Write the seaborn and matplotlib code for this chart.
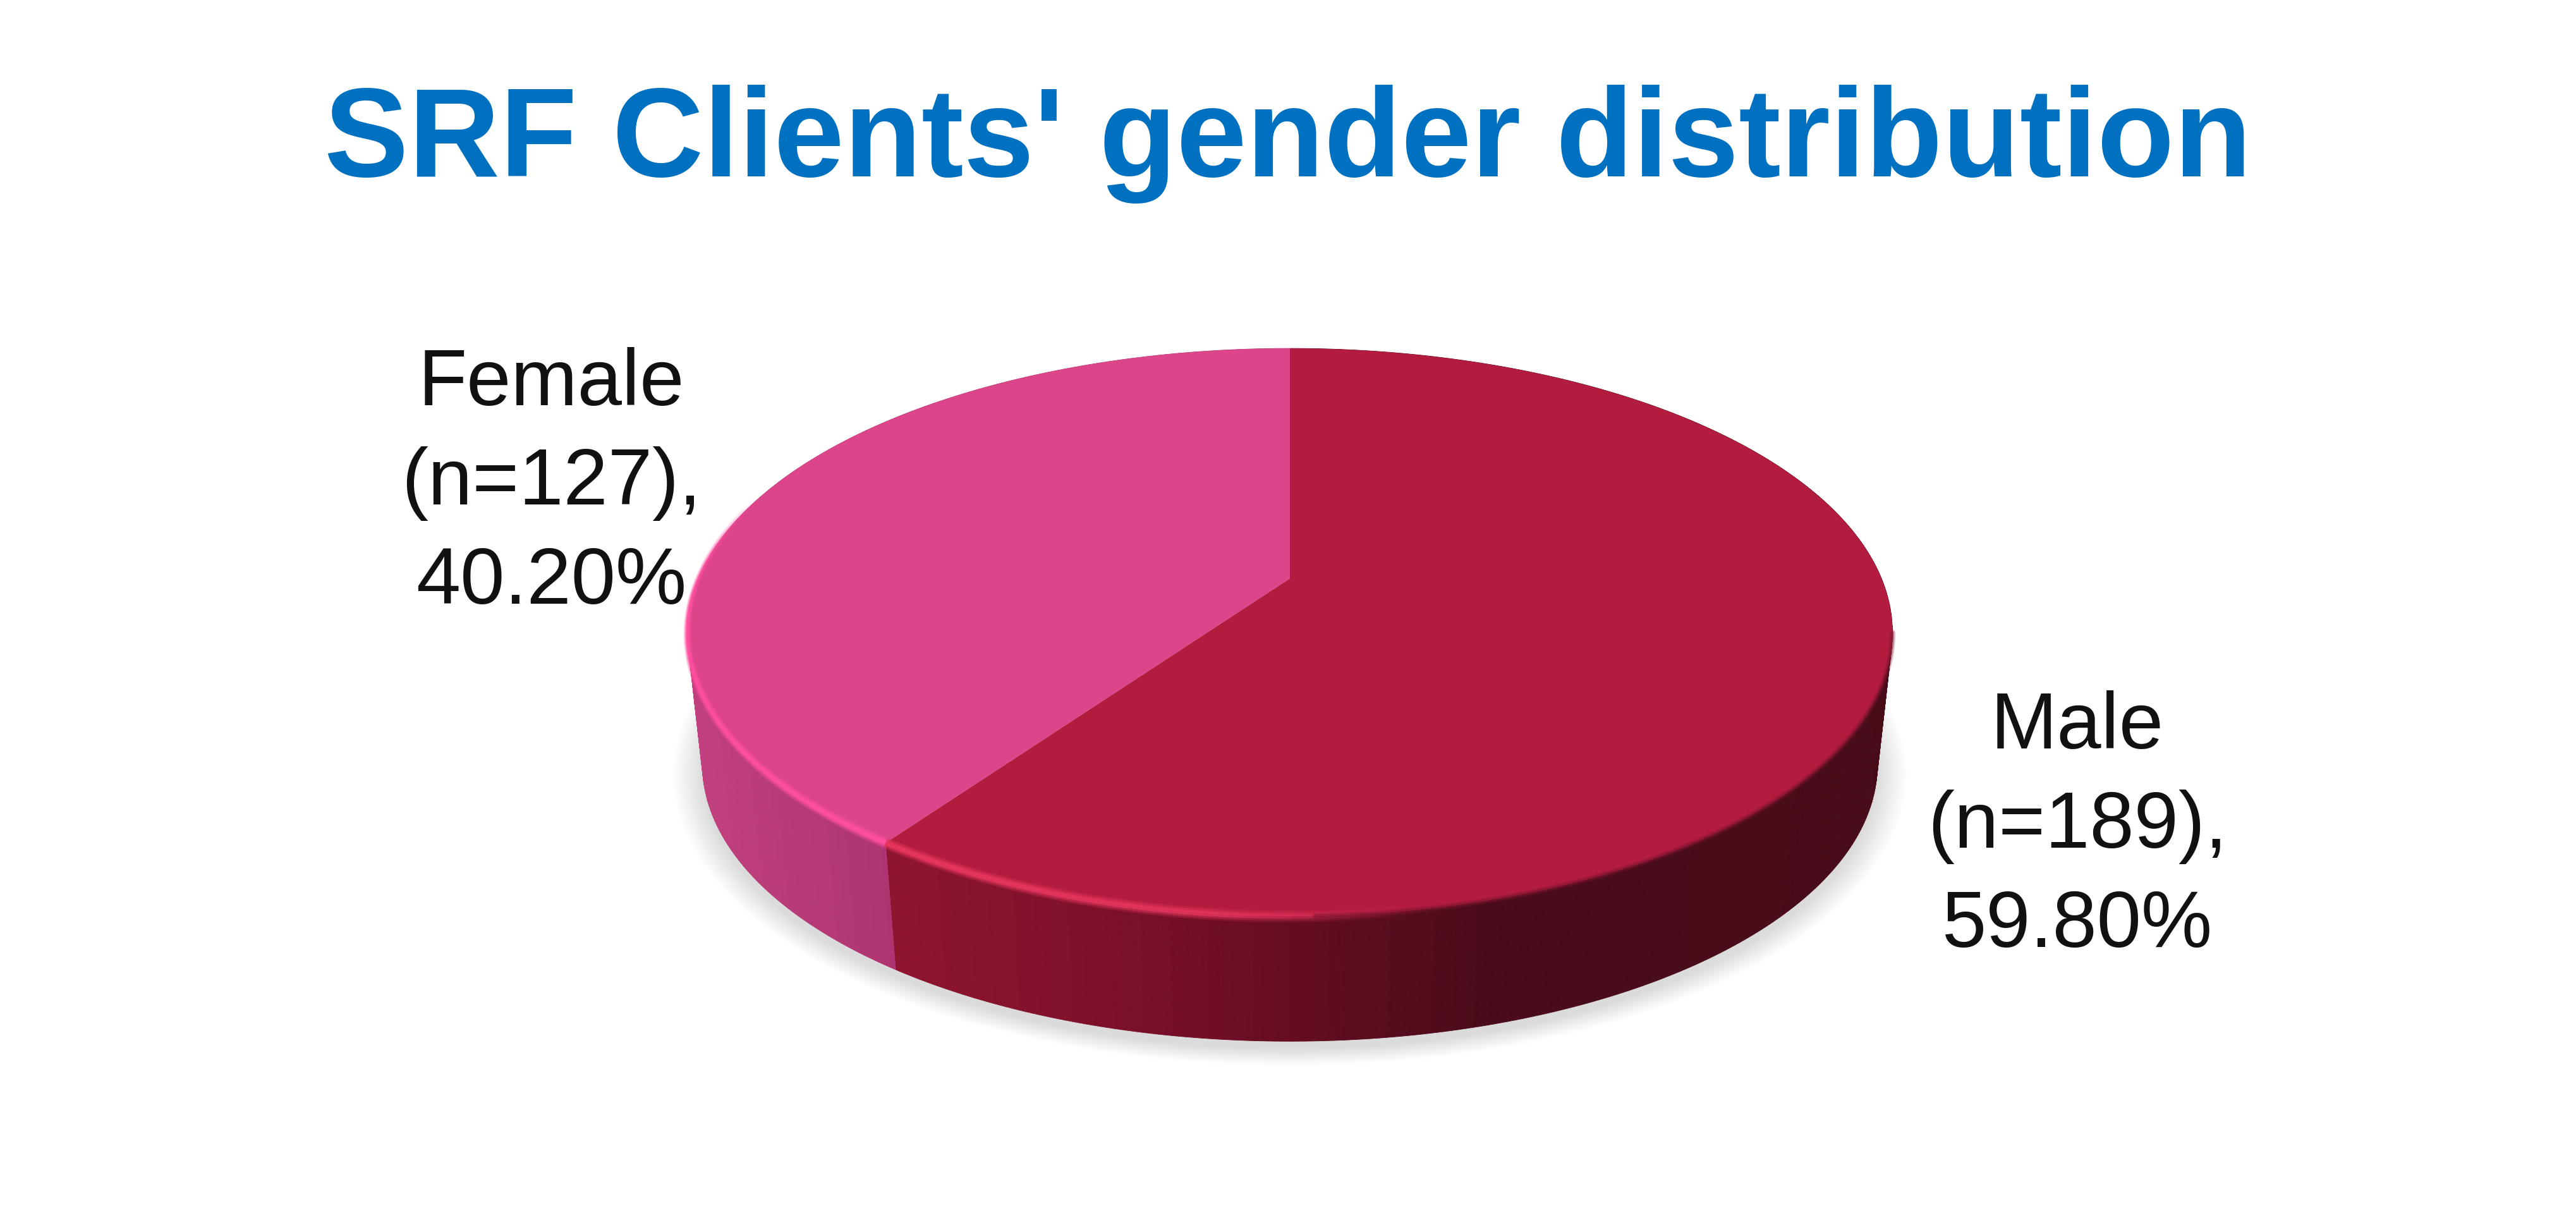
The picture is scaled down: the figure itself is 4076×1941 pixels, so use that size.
import matplotlib
import matplotlib.pyplot as plt
import numpy as np
import seaborn as sns
from matplotlib.collections import LineCollection
from matplotlib.colors import to_rgb

# to directly save plots to the fs
matplotlib.use("Agg")

TITLE = "SRF Clients' gender distribution"
GENDERS = ["Male", "Female"]
COUNTS = [189, 127]
PERCENTS = [59.80, 40.20]

TOP_COLORS = ["#B41C3F", "#DC458A"]
WALL_STOPS = [
    ([1410, 1800, 2080, 2350, 3000], ["#8E152F", "#7A1029", "#620C20", "#4A0C1A", "#480C19"]),
    ([1080, 1410], ["#C2407F", "#AD3570"]),
]
RIM_COLORS = ["#E8365F", "#FF4FA0"]

WIDTH, HEIGHT = 4076, 1941
# perspective of the disc, in pixels
CX = 2041
TOP_Y = 915
BOTTOM_Y = 1126
RX = 936
RY = 433
TILT = 0.19
BOTTOM_SCALE = 0.975

sns.set_theme(style="white")
plt.rcParams["font.family"] = ["Liberation Sans", "DejaVu Sans"]


def project(theta, scale=1.0, base_y=TOP_Y):
    """Map clockwise degrees from 12 o'clock onto the tilted disc."""
    rad = np.radians(theta)
    u, v = np.sin(rad), np.cos(rad)
    w = 1 + TILT * v
    return CX + scale * RX * u / w, base_y - scale * RY * v / w


def wall_color(x, index):
    xs, colors = WALL_STOPS[index]
    rgb = np.array([to_rgb(c) for c in colors])
    return tuple(np.interp(x, xs, rgb[:, i]) for i in range(3))


def main():
    fig = plt.figure(figsize=(WIDTH / 100, HEIGHT / 100), dpi=100)
    ax = fig.add_axes([0, 0, 1, 1])
    ax.set_xlim(0, WIDTH)
    ax.set_ylim(HEIGHT, 0)
    ax.axis("off")

    edges = 360 * np.cumsum([0] + PERCENTS) / sum(PERCENTS)
    ring = np.linspace(0, 360, 361)

    # soft shadow under the disc
    for grow in np.linspace(1.05, 1.0, 18):
        sx, sy = project(ring, BOTTOM_SCALE * grow, BOTTOM_Y + 12)
        ax.fill(sx, sy, color="black", alpha=0.0075, lw=0, zorder=1)

    # side wall as thin strips, shaded by horizontal position
    for i in range(len(GENDERS)):
        angles = np.arange(edges[i], edges[i + 1] + 0.6, 0.6)
        angles = np.minimum(angles, edges[i + 1])
        for a0, a1 in zip(angles[:-1], angles[1:]):
            x0, y0 = project(a0)
            x1, y1 = project(a1)
            x2, y2 = project(a1, BOTTOM_SCALE, BOTTOM_Y)
            x3, y3 = project(a0, BOTTOM_SCALE, BOTTOM_Y)
            color = wall_color((x0 + x1) / 2, i)
            ax.fill([x0, x1, x2, x3], [y0, y1, y2, y3], color=color, lw=0.6, zorder=2)

    # top face
    for i in range(len(GENDERS)):
        angles = np.linspace(edges[i], edges[i + 1], 300)
        x, y = project(angles)
        ax.fill(np.r_[CX, x], np.r_[TOP_Y, y], color=TOP_COLORS[i], lw=0, zorder=3)

    # lit rim on the left and front, dark soft rim on the right
    for i in range(len(GENDERS)):
        angles = np.linspace(edges[i], edges[i + 1], 400)
        x, y = project(angles)
        points = np.column_stack([x, y])
        segments = np.stack([points[:-1], points[1:]], axis=1)
        mid_x = (x[:-1] + x[1:]) / 2
        cos_mid = np.cos(np.radians((angles[:-1] + angles[1:]) / 2))
        glow = np.interp(mid_x, [1085, 1410, 1900, 2250], [1, 1, 0.8, 0])
        glow = glow * np.interp(cos_mid, [-0.1, 0.3], [1, 0])
        rgb = to_rgb(RIM_COLORS[i])
        for lw_scale, alpha in [(1.0, 0.3), (0.7, 0.5), (0.4, 0.9)]:
            colors = [rgb + (a * alpha,) for a in glow]
            widths = lw_scale * (7 + 7 * np.abs(cos_mid))
            ax.add_collection(LineCollection(segments, colors=colors, linewidths=widths,
                                             capstyle="butt", zorder=4))

    arc = np.linspace(101, 178, 200)
    x, y = project(arc)
    for lw, alpha in [(7, 0.25), (4, 0.45)]:
        ax.plot(x, y, color="#7D1430", lw=lw, alpha=alpha, zorder=4)

    ax.text(2038, 228, TITLE, color="#0070C0", fontsize=144, fontweight="bold",
            ha="center", va="center", zorder=6)

    label_pos = [(3287, 1308), (872, 765)]
    for i, gender in enumerate(GENDERS):
        text = f"{gender}\n(n={COUNTS[i]}),\n{PERCENTS[i]:.2f}%"
        ax.text(label_pos[i][0], label_pos[i][1], text, color="#111111", fontsize=91,
                ha="center", va="center", linespacing=1.42, zorder=6)

    fig.savefig("out.png", dpi=100, facecolor="white")
    plt.close(fig)


if __name__ == "__main__":
    main()
